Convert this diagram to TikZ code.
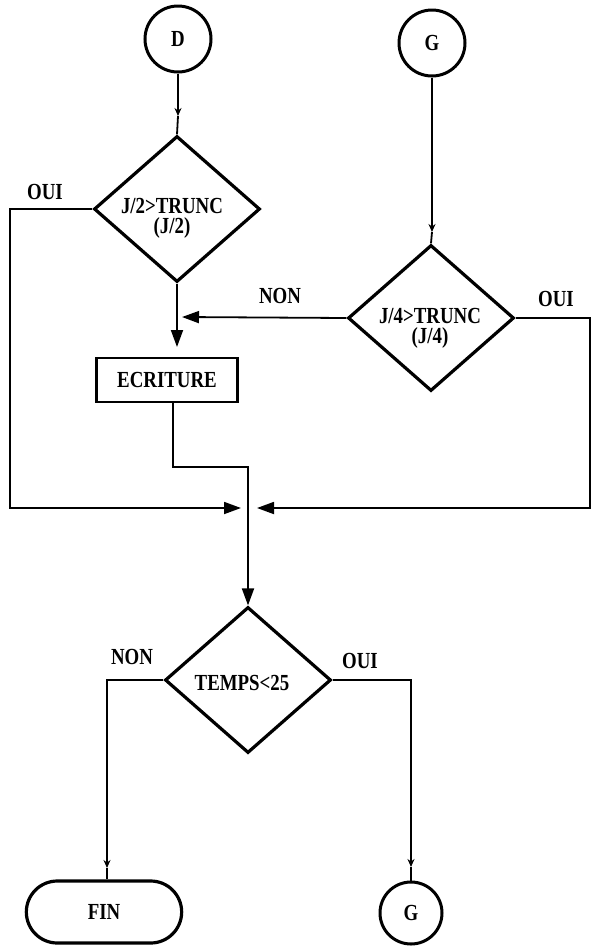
\documentclass[tikz,border=0pt]{standalone}
\usepackage{fontspec}
\setmainfont{Liberation Serif}[FakeStretch=0.82]
\usetikzlibrary{arrows.meta,shapes.geometric,shapes.misc}
\begin{document}
\begin{tikzpicture}[x=1pt,y=-1pt,
  font=\fontsize{23}{20}\selectfont\bfseries,
  conn/.style={line width=1.8pt},
  bigarrow/.style={conn,-{Triangle[length=17pt,width=12pt]}},
  smallarrow/.style={conn,-{Stealth[length=8pt,width=7pt]}},
  decision/.style={diamond,draw,line width=3.2pt,minimum width=166pt,minimum height=146pt,inner sep=0pt,aspect=1.14},
  dtext/.style={align=center,inner sep=0pt},
  connector/.style={circle,draw,line width=3pt,minimum size=66pt,inner sep=0pt},
  procbox/.style={rectangle,draw,line width=2.2pt,minimum width=141pt,minimum height=44pt},
  terminal/.style={rounded rectangle,draw,line width=3.2pt,minimum width=162pt,minimum height=62pt},
  lbl/.style={inner sep=0pt}]
\useasboundingbox (0,0) rectangle (595,946);

% shapes
\node[connector] (D) at (178,39) {D};
\node[connector] (Gt) at (432,43) {G};
\node[decision] (d1) at (177,209) {};
\node[dtext] (t1) at (172,218) {J/2>TRUNC\\(J/2)};
\node[decision] (d2) at (431,318) {};
\node[dtext] (t2) at (430,328) {J/4>TRUNC\\(J/4)};
\node[procbox] (ecr) at (167,380) {ECRITURE};
\node[decision] (d3) at (248,680) {};
\node[dtext] (t3) at (242,683) {TEMPS<25};
\node[terminal] (fin) at (104,912) {FIN};
\node[connector,minimum size=62pt] (Gb) at (411,913) {G};

% labels
\node[lbl] (oui1) at (45,192) {OUI};
\node[lbl] (non2) at (280,296) {NON};
\node[lbl] (oui2) at (556,299) {OUI};
\node[lbl] (non3) at (132,657) {NON};
\node[lbl] (oui3) at (360,661) {OUI};

% routing points
\coordinate (aD) at (178,116);
\coordinate (aG) at (432,232);
\coordinate (L1) at (10,209);
\coordinate (L2) at (10,508);
\coordinate (mL) at (241,508);
\coordinate (R1) at (590,318);
\coordinate (R2) at (590,508);
\coordinate (mR) at (257,508);
\coordinate (E1) at (173,467);
\coordinate (M1) at (248,467);
\coordinate (aE) at (177,347);
\coordinate (aN) at (182,317);
\coordinate (F1) at (107,680);
\coordinate (aF) at (107,868);
\coordinate (G1) at (411,680);
\coordinate (aGb) at (411,867);

% connectors
\draw[smallarrow] (D) -- (aD);
\draw[conn] (aD) -- (d1.north);
\draw[smallarrow] (Gt) -- (aG);
\draw[conn] (aG) -- (d2.north);
\draw[bigarrow] (d1.south) -- (aE);
\draw[bigarrow] (d2.west) -- (aN);
\draw[bigarrow] (d1.west) -- (L1) -- (L2) -- (mL);
\draw[bigarrow] (d2.east) -- (R1) -- (R2) -- (mR);
\draw[bigarrow] (ecr.south -| E1) -- (E1) -- (M1) -- (d3.north);
\draw[smallarrow] (d3.west) -- (F1) -- (aF);
\draw[conn] (aF) -- (fin.north -| aF);
\draw[smallarrow] (d3.east) -- (G1) -- (aGb);
\draw[conn] (aGb) -- (Gb.north);
\end{tikzpicture}
\end{document}
